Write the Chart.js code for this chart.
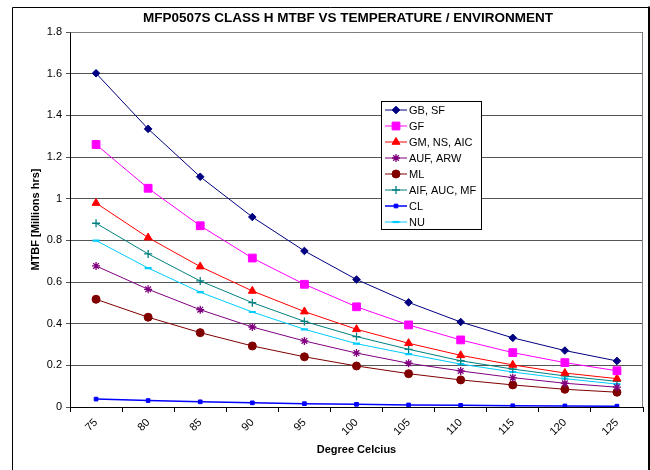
<!DOCTYPE html>
<html>
<head>
<meta charset="utf-8">
<title>MFP0507S Class H MTBF</title>
<script src="https://cdn.jsdelivr.net/npm/chart.js@4.4.1/dist/chart.umd.min.js"></script>
<style>
  html, body { margin:0; padding:0; background:#fff; }
  canvas { display:block; }
</style>
</head>
<body>
<canvas id="chart" width="650" height="470"></canvas>
<script>
// temperature categories (deg C)
const temps = ['75','80','85','90','95','100','105','110','115','120','125'];

// MTBF in millions of hours
const gbSf    = [1.602, 1.335, 1.105, 0.912, 0.749, 0.612, 0.502, 0.408, 0.332, 0.271, 0.221];
const gf      = [1.260, 1.050, 0.870, 0.715, 0.589, 0.481, 0.394, 0.322, 0.261, 0.213, 0.174];
const gmNsAic = [0.979, 0.813, 0.674, 0.557, 0.458, 0.373, 0.306, 0.248, 0.202, 0.163, 0.136];
const aufArw  = [0.677, 0.565, 0.467, 0.384, 0.317, 0.259, 0.210, 0.173, 0.141, 0.114, 0.095];
const ml      = [0.517, 0.431, 0.357, 0.293, 0.241, 0.197, 0.160, 0.130, 0.106, 0.085, 0.071];
const aifAucMf= [0.882, 0.735, 0.605, 0.501, 0.411, 0.338, 0.277, 0.222, 0.182, 0.149, 0.123];
const cl      = [0.038, 0.031, 0.025, 0.020, 0.016, 0.013, 0.010, 0.008, 0.006, 0.005, 0.004];
const nu      = [0.799, 0.667, 0.551, 0.456, 0.373, 0.304, 0.254, 0.206, 0.168, 0.136, 0.110];

const yMin = 0, yMax = 1.8, yStep = 0.2;

const FONT = 'Liberation Sans, Arial, sans-serif';

function series(label, data, color, style, radius, extra){
  return Object.assign({
    label, data,
    borderColor: color,
    backgroundColor: color,
    pointBackgroundColor: color,
    pointBorderColor: color,
    pointStyle: style,
    pointRadius: radius,
    pointHoverRadius: radius,
    pointBorderWidth: 1,
    borderWidth: 1,
    tension: 0,
    fill: false
  }, extra || {});
}

const datasets = [
  series('GB, SF', gbSf, '#000080', 'rectRot', 3.8),
  series('GF', gf, '#FF00FF', 'rect', 5.5),
  series('GM, NS, AIC', gmNsAic, '#FF0000', 'triangle', 4.6),
  series('AUF, ARW', aufArw, '#800080', 'star', 4, { pointBorderWidth: 1.3 }),
  series('ML', ml, '#800000', 'circle', 4),
  series('AIF, AUC, MF', aifAucMf, '#008080', 'cross', 4, { pointBorderWidth: 1.3 }),
  series('CL', cl, '#0000FF', 'rect', 2.6, { borderWidth: 1.5 }),
  series('NU', nu, '#00CCFF', 'line', 3.5, { pointBorderWidth: 2.2 })
];

// frame, title, plot border and legend box drawn on the canvas
const decor = {
  id: 'decor',
  beforeDraw(chart){
    const ctx = chart.ctx;
    ctx.save();
    ctx.fillStyle = '#fff';
    ctx.fillRect(0, 0, chart.width, chart.height);
    ctx.strokeStyle = '#000';
    ctx.lineWidth = 1;
    ctx.beginPath();
    ctx.moveTo(12.5, 480); ctx.lineTo(12.5, 7.5); ctx.lineTo(648, 7.5);
    ctx.stroke();
    ctx.lineWidth = 2;
    ctx.beginPath();
    ctx.moveTo(649, 6.5); ctx.lineTo(649, 480);
    ctx.stroke();
    ctx.fillStyle = '#000';
    ctx.font = 'bold 13.5px ' + FONT;
    ctx.textAlign = 'center';
    ctx.textBaseline = 'middle';
    ctx.fillText('MFP0507S CLASS H MTBF VS TEMPERATURE / ENVIRONMENT', 348, 18);
    ctx.restore();
  },
  afterDatasetsDraw(chart){
    const ctx = chart.ctx;
    const a = chart.chartArea;
    ctx.save();
    ctx.strokeStyle = '#808080';
    ctx.lineWidth = 1;
    ctx.beginPath();
    ctx.moveTo(Math.round(a.left) + 0.5, Math.round(a.top) + 0.5);
    ctx.lineTo(Math.round(a.right) - 0.5, Math.round(a.top) + 0.5);
    ctx.lineTo(Math.round(a.right) - 0.5, Math.round(a.bottom));
    ctx.stroke();

    // legend
    const bx = 381.5, by = 101.5, bw = 100, bh = 128;
    ctx.fillStyle = '#fff';
    ctx.fillRect(bx, by, bw, bh);
    ctx.strokeStyle = '#000';
    ctx.strokeRect(bx, by, bw, bh);
    ctx.font = '11px ' + FONT;
    ctx.textBaseline = 'middle';
    ctx.textAlign = 'left';
    chart.data.datasets.forEach((ds, i) => {
      const y = 110 + i * 16;
      ctx.strokeStyle = ds.borderColor;
      ctx.lineWidth = ds.borderWidth;
      ctx.beginPath();
      ctx.moveTo(385, y); ctx.lineTo(407, y);
      ctx.stroke();
      ctx.fillStyle = ds.pointBackgroundColor;
      ctx.strokeStyle = ds.pointBorderColor;
      ctx.lineWidth = ds.pointBorderWidth;
      Chart.helpers.drawPoint(ctx, { pointStyle: ds.pointStyle, radius: ds.pointRadius, rotation: 0, borderWidth: ds.pointBorderWidth }, 396, y);
      ctx.fillStyle = '#000';
      ctx.fillText(ds.label, 409, y + 0.5);
    });
    ctx.restore();
  }
};

new Chart(document.getElementById('chart'), {
  type: 'line',
  data: { labels: temps, datasets },
  options: {
    responsive: false,
    animation: false,
    devicePixelRatio: 1,
    layout: { padding: { top: 32, right: 7, bottom: 0, left: 0 } },
    plugins: {
      legend: { display: false },
      title: { display: false },
      tooltip: { enabled: false }
    },
    scales: {
      x: {
        offset: true,
        afterFit(scale){ scale.height = 63; },
        grid: { display: true, drawOnChartArea: false, drawTicks: true, tickLength: 5, offset: true, color: '#000' },
        border: { display: true, color: '#000', width: 1 },
        ticks: {
          color: '#000', font: { family: FONT, size: 11 },
          maxRotation: 45, minRotation: 45, padding: 4, autoSkip: false
        },
        title: {
          display: true, text: 'Degree Celcius', color: '#000',
          font: { family: FONT, size: 11, weight: 'bold' },
          padding: { top: 0, bottom: 13 }
        }
      },
      y: {
        min: yMin, max: yMax,
        afterFit(scale){ scale.width = 70; },
        grid: { color: '#555', lineWidth: 1, tickLength: 4, drawTicks: true },
        border: { display: true, color: '#000', width: 1 },
        ticks: {
          stepSize: yStep, color: '#000', padding: 4,
          font: { family: FONT, size: 11 },
          callback: v => String(+v.toFixed(1))
        },
        title: {
          display: true, text: 'MTBF [Millions hrs]', color: '#000',
          font: { family: FONT, size: 11, weight: 'bold' },
          padding: { top: 29, bottom: 0 }
        }
      }
    }
  },
  plugins: [decor]
});
</script>
</body>
</html>
